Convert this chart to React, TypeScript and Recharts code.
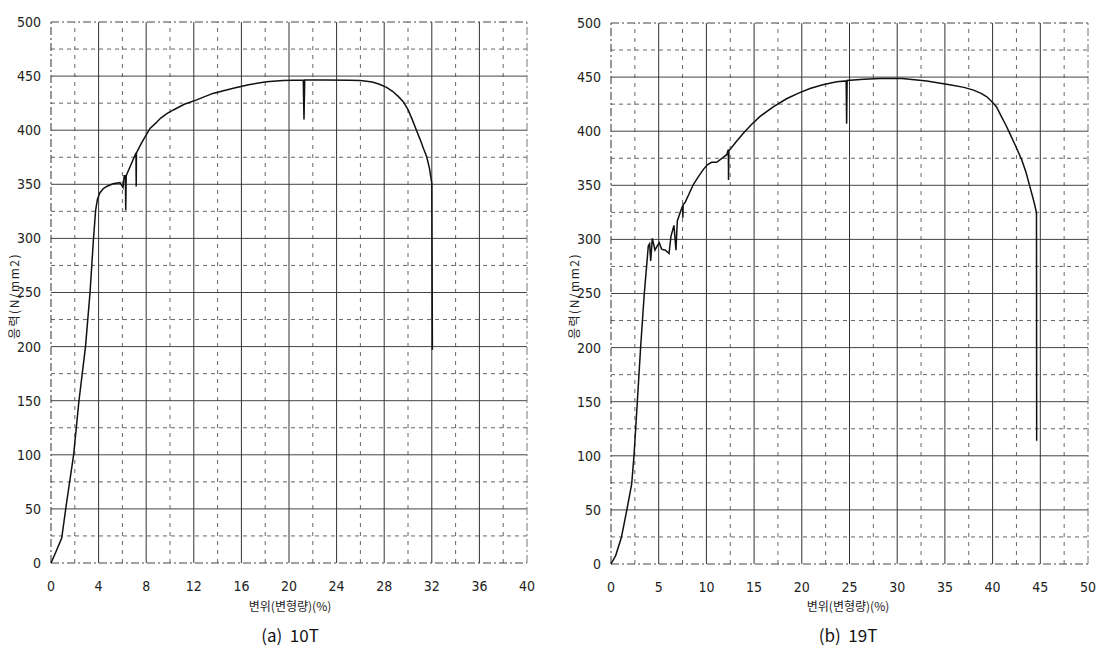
import React from "react";
import { LineChart, Line, XAxis, YAxis, ReferenceLine } from "recharts";

// 10T specimen: strain (%) and stress (N/mm2)
const strain10T = [0, 0.4, 0.9, 1.3, 1.9, 2.35, 2.9, 3.28, 3.56, 3.75, 3.9, 4.1, 4.4, 4.68, 5.2, 5.8, 6.05, 6.15, 6.25, 6.28, 6.32, 6.4, 7.14, 7.16, 7.18, 7.6, 8.32, 8.8, 9.2, 9.7, 10.28, 11.2, 12.24, 13.6, 15.32, 16.6, 18.1, 19.5, 21.2, 21.26, 21.32, 23, 25, 26, 27, 27.6, 28.2, 28.7, 29.2, 29.6, 30.0, 30.35, 30.7, 31.0, 31.3, 31.57, 31.8, 32.0, 32.05];
const stress10T = [0, 10, 23, 55, 100, 150, 200, 250, 298, 326, 336, 342, 346, 348, 350.5, 351.5, 347, 358, 358, 326, 358, 360, 379, 348, 379, 388, 401.7, 406.5, 411, 415, 418.7, 424, 428, 434, 438.7, 442, 444.8, 446, 446.4, 410, 446.4, 446.4, 446.2, 446, 444.5, 442.5, 439.6, 436, 431, 426.4, 419, 410, 400.2, 392, 383, 375.5, 365, 351, 197];

// 19T specimen
const strain19T = [0, 0.5, 1.1, 1.65, 2.17, 2.41, 2.76, 3.11, 3.49, 3.74, 3.91, 4.05, 4.16, 4.33, 4.61, 4.85, 5.06, 5.31, 5.7, 6.08, 6.29, 6.6, 6.81, 6.95, 7.3, 7.51, 7.53, 7.56, 7.76, 8.63, 9.2, 9.67, 10.1, 10.55, 11.08, 12.13, 12.3, 12.32, 12.36, 13.1, 13.87, 14.7, 15.6, 17, 18.4, 19.6, 20.86, 22.2, 23.65, 24.65, 24.7, 24.75, 26.5, 28.2, 30.5, 33.1, 35.5, 37, 38, 38.8, 39.4, 39.9, 40.4, 40.9, 41.4, 41.8, 42.4, 43.05, 43.5, 43.9, 44.3, 44.6, 44.62];
const stress19T = [0, 8, 25, 49.5, 74, 100, 150, 201, 250, 276, 294, 296, 280, 301, 290, 294, 297, 291, 290, 287, 303, 313, 290, 317, 326, 331, 320, 332, 334, 350.7, 358.5, 364.5, 369, 371.3, 371.3, 378.3, 383, 355, 382, 390, 398, 406, 413.5, 422.5, 430, 435, 439.4, 443, 445.6, 446.5, 407, 446.8, 448, 448.6, 448.6, 446.5, 443, 440.5, 438, 435, 431.8, 427.5, 422.7, 414, 405.5, 398, 386.5, 373.7, 362, 349, 336, 324.8, 114];

// Axis ticks
const xTicks10T = [0, 4, 8, 12, 16, 20, 24, 28, 32, 36, 40];
const xMinor10T = [2, 6, 10, 14, 18, 22, 26, 30, 34, 38];
const xTicks19T = [0, 5, 10, 15, 20, 25, 30, 35, 40, 45, 50];
const xMinor19T = [2.5, 7.5, 12.5, 17.5, 22.5, 27.5, 32.5, 37.5, 42.5, 47.5];
const yTicks = [0, 50, 100, 150, 200, 250, 300, 350, 400, 450, 500];
const yMinor = [25, 75, 125, 175, 225, 275, 325, 375, 425, 475];

const xLabel = "변위(변형량)(%)";
const yLabel = "응력(N/mm2)";
const captions = ["(a)  10T", "(b)  19T"];

const tickFont = {
  fontFamily: "'Liberation Sans Narrow', 'DejaVu Sans Condensed', sans-serif",
  fontSize: 14,
  fill: "#222",
};

type PanelProps = {
  xs: number[];
  ys: number[];
  xTicks: number[];
  xMinor: number[];
  xMax: number;
  left: number;
  top: number;
  rightMargin: number;
  xAxisHeight: number;
};

function Panel({ xs, ys, xTicks, xMinor, xMax, left, top, rightMargin, xAxisHeight }: PanelProps) {
  const data = xs.map((x, i) => ({ x, y: ys[i] }));
  return (
    <div style={{ position: "absolute", left, top }}>
      <LineChart
        width={540}
        height={600}
        data={data}
        margin={{ top: 600 - xAxisHeight - 541, right: rightMargin, left: 0, bottom: 0 }}
      >
        <XAxis
          dataKey="x"
          type="number"
          domain={[0, xMax]}
          ticks={xTicks}
          axisLine={false}
          tickLine={false}
          tickMargin={12}
          height={xAxisHeight}
          tick={tickFont}
          interval={0}
        />
        <YAxis
          type="number"
          domain={[0, 500]}
          ticks={yTicks}
          axisLine={false}
          tickLine={false}
          tickMargin={4}
          width={51}
          tick={tickFont}
          interval={0}
        />
        {yMinor.map((v) => (
          <ReferenceLine key={"ym" + v} y={v} stroke="#666" strokeWidth={1} strokeDasharray="4 4" />
        ))}
        {xMinor.map((v) => (
          <ReferenceLine key={"xm" + v} x={v} stroke="#666" strokeWidth={1} strokeDasharray="4 5" />
        ))}
        {yTicks.map((v) => (
          <ReferenceLine
            key={"yM" + v}
            y={v}
            stroke="#444"
            strokeWidth={1}
            strokeDasharray={v === 500 || v === 0 ? "8 3 2 3" : undefined}
          />
        ))}
        {xTicks.map((v) => (
          <ReferenceLine
            key={"xM" + v}
            x={v}
            stroke={v === xMax ? "#777" : "#333"}
            strokeWidth={1}
            strokeDasharray={v === xMax || v === 0 ? "8 3 2 3" : undefined}
          />
        ))}
        <Line
          type="linear"
          dataKey="y"
          stroke="#111"
          strokeWidth={1.5}
          dot={false}
          activeDot={false}
          isAnimationActive={false}
        />
      </LineChart>
    </div>
  );
}

const koreanFont = "'Noto Sans CJK KR', 'Noto Sans', sans-serif";

function Texts({ cx, yLabelX, caption }: { cx: number; yLabelX: number; caption: string }) {
  return (
    <>
      <div
        style={{
          position: "absolute",
          left: cx,
          top: 605,
          transform: "translate(-50%, -50%)",
          fontFamily: koreanFont,
          fontSize: 12,
          color: "#222",
          whiteSpace: "nowrap",
        }}
      >
        {xLabel}
      </div>
      <div
        style={{
          position: "absolute",
          left: yLabelX,
          top: 296,
          transform: "translate(-50%, -50%) rotate(-90deg)",
          fontFamily: koreanFont,
          fontSize: 12,
          letterSpacing: 1.5,
          color: "#222",
          whiteSpace: "nowrap",
        }}
      >
        {yLabel}
      </div>
      <div
        style={{
          position: "absolute",
          left: cx,
          top: 634,
          transform: "translate(-50%, -50%)",
          fontFamily: koreanFont,
          fontSize: 17,
          color: "#111",
          whiteSpace: "pre",
        }}
      >
        {caption}
      </div>
    </>
  );
}

export default function App() {
  return (
    <div
      style={{
        position: "absolute",
        left: 0,
        top: 0,
        width: 1106,
        height: 660,
        background: "#fff",
        overflow: "hidden",
      }}
    >
      <Panel
        xs={strain10T}
        ys={stress10T}
        xTicks={xTicks10T}
        xMinor={xMinor10T}
        xMax={40}
        left={0}
        top={0}
        rightMargin={13}
        xAxisHeight={37}
      />
      <Panel
        xs={strain19T}
        ys={stress19T}
        xTicks={xTicks19T}
        xMinor={xMinor19T}
        xMax={50}
        left={560}
        top={0}
        rightMargin={12}
        xAxisHeight={36}
      />
      <Texts cx={290} yLabelX={13} caption={captions[0]} />
      <Texts cx={848} yLabelX={573} caption={captions[1]} />
    </div>
  );
}
